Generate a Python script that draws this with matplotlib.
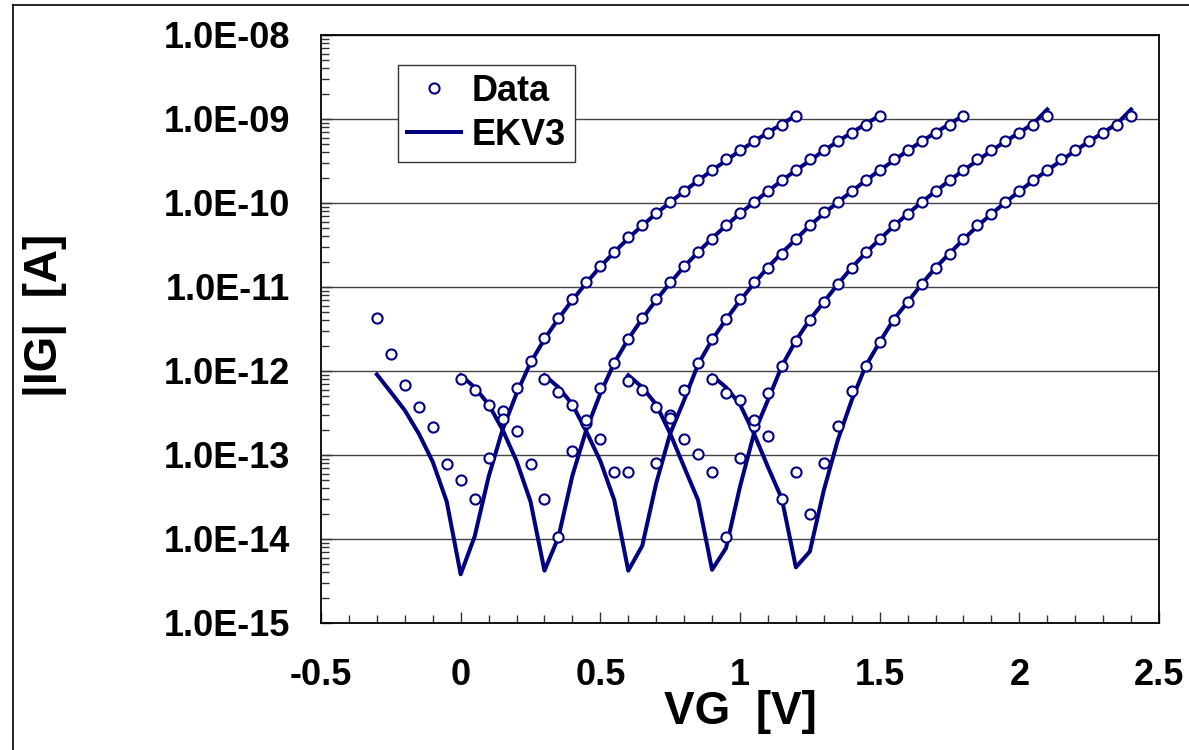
import numpy as np
import matplotlib.pyplot as plt
from matplotlib.ticker import MultipleLocator, LogLocator, FuncFormatter, NullFormatter
from matplotlib.lines import Line2D

plt.rcParams['font.family'] = ['Liberation Sans', 'DejaVu Sans']
plt.rcParams['font.weight'] = 'bold'

# gate voltage sweeps (step 0.05 V), one per curve
vg_1 = np.round(np.arange(-0.3, 1.2001, 0.05), 2)
vg_2 = np.round(np.arange(0.0, 1.5001, 0.05), 2)
vg_3 = np.round(np.arange(0.3, 1.8001, 0.05), 2)
vg_4 = np.round(np.arange(0.6, 2.1001, 0.05), 2)
vg_5 = np.round(np.arange(0.9, 2.4001, 0.05), 2)

# measured |IG| [A]
data_1 = [4.3e-12, 1.6e-12, 6.9e-13, 3.7e-13, 2.15e-13, 7.9e-14, 5.1e-14, 3.0e-14, 9.3e-14, 3.3e-13,
          6.3e-13, 1.3e-12, 2.5e-12, 4.3e-12, 7.1e-12, 1.15e-11, 1.78e-11, 2.6e-11, 3.9e-11, 5.5e-11,
          7.6e-11, 1.04e-10, 1.4e-10, 1.87e-10, 2.47e-10, 3.3e-10, 4.3e-10, 5.4e-10, 6.9e-10, 8.5e-10, 1.1e-9]
data_2 = [8.1e-13, 6.0e-13, 3.9e-13, 2.7e-13, 1.95e-13, 7.9e-14, 3.0e-14, 1.05e-14, 1.12e-13, 2.4e-13,
          6.3e-13, 1.26e-12, 2.4e-12, 4.3e-12, 7.1e-12, 1.15e-11, 1.78e-11, 2.6e-11, 3.7e-11, 5.5e-11,
          7.6e-11, 1.04e-10, 1.4e-10, 1.87e-10, 2.5e-10, 3.3e-10, 4.3e-10, 5.4e-10, 6.9e-10, 8.5e-10, 1.1e-9]
data_3 = [8.1e-13, 5.7e-13, 3.9e-13, 2.6e-13, 1.55e-13, 6.3e-14, 6.3e-14, np.nan, 8.1e-14, 3.0e-13,
          6.0e-13, 1.26e-12, 2.4e-12, 4.2e-12, 7.1e-12, 1.15e-11, 1.7e-11, 2.5e-11, 3.7e-11, 5.5e-11,
          7.9e-11, 1.04e-10, 1.4e-10, 1.87e-10, 2.5e-10, 3.3e-10, 4.3e-10, 5.4e-10, 6.9e-10, 8.5e-10, 1.1e-9]
data_4 = [7.7e-13, 6.0e-13, 3.7e-13, 2.75e-13, 1.55e-13, 1.04e-13, 6.3e-14, 1.05e-14, 9.3e-14, 2.2e-13,
          5.4e-13, 1.15e-12, 2.3e-12, 4.1e-12, 6.6e-12, 1.1e-11, 1.7e-11, 2.6e-11, 3.7e-11, 5.5e-11,
          7.3e-11, 1.04e-10, 1.4e-10, 1.87e-10, 2.5e-10, 3.3e-10, 4.3e-10, 5.4e-10, 6.9e-10, 8.5e-10, 1.1e-9]
data_5 = [8.1e-13, 5.4e-13, 4.5e-13, 2.6e-13, 1.7e-13, 3.0e-14, 6.3e-14, 2.0e-14, 8.1e-14, 2.2e-13,
          5.8e-13, 1.15e-12, 2.2e-12, 4.1e-12, 6.6e-12, 1.1e-11, 1.7e-11, 2.5e-11, 3.7e-11, 5.5e-11,
          7.3e-11, 1.04e-10, 1.4e-10, 1.87e-10, 2.5e-10, 3.3e-10, 4.3e-10, 5.4e-10, 6.9e-10, 8.5e-10, 1.1e-9]

# EKV3 model
ekv_1 = [9.1e-13, 5.6e-13, 3.4e-13, 1.8e-13, 8.3e-14, 2.8e-14, 3.8e-15, 1.07e-14, 5.5e-14, 2.0e-13,
         5.4e-13, 1.25e-12, 2.4e-12, 4.2e-12, 7.0e-12, 1.12e-11, 1.75e-11, 2.6e-11, 3.8e-11, 5.4e-11,
         7.5e-11, 1.02e-10, 1.38e-10, 1.85e-10, 2.45e-10, 3.2e-10, 4.2e-10, 5.4e-10, 6.9e-10, 8.7e-10, 1.1e-9]
ekv_2 = [8.9e-13, 6.4e-13, 4.0e-13, 2.0e-13, 8.5e-14, 2.8e-14, 4.2e-15, 1.05e-14, 5.7e-14, 2.0e-13,
         5.4e-13, 1.25e-12, 2.4e-12, 4.2e-12, 7.0e-12, 1.12e-11, 1.75e-11, 2.6e-11, 3.8e-11, 5.4e-11,
         7.5e-11, 1.02e-10, 1.38e-10, 1.85e-10, 2.45e-10, 3.2e-10, 4.2e-10, 5.4e-10, 6.9e-10, 8.7e-10, 1.1e-9]
ekv_3 = [8.9e-13, 6.4e-13, 4.0e-13, 1.9e-13, 8.5e-14, 2.9e-14, 4.2e-15, 8.3e-15, 4.6e-14, 1.8e-13,
         4.5e-13, 1.2e-12, 2.35e-12, 4.1e-12, 6.9e-12, 1.1e-11, 1.72e-11, 2.55e-11, 3.7e-11, 5.4e-11,
         7.5e-11, 1.02e-10, 1.38e-10, 1.85e-10, 2.45e-10, 3.2e-10, 4.2e-10, 5.4e-10, 6.9e-10, 8.7e-10, 1.1e-9]
ekv_4 = [8.9e-13, 6.4e-13, 4.0e-13, 1.8e-13, 7.2e-14, 2.9e-14, 4.3e-15, 7.8e-15, 4.2e-14, 1.8e-13,
         4.5e-13, 1.15e-12, 2.3e-12, 4.1e-12, 6.6e-12, 1.08e-11, 1.7e-11, 2.55e-11, 3.7e-11, 5.3e-11,
         7.4e-11, 1.02e-10, 1.38e-10, 1.85e-10, 2.45e-10, 3.2e-10, 4.2e-10, 5.4e-10, 6.9e-10, 8.8e-10, 1.3e-9]
ekv_5 = [8.8e-13, 6.4e-13, 4.0e-13, 1.8e-13, 7.2e-14, 3.0e-14, 4.6e-15, 7.1e-15, 3.8e-14, 1.5e-13,
         4.5e-13, 1.15e-12, 2.2e-12, 4.1e-12, 6.6e-12, 1.08e-11, 1.7e-11, 2.5e-11, 3.7e-11, 5.3e-11,
         7.4e-11, 1.02e-10, 1.38e-10, 1.85e-10, 2.45e-10, 3.2e-10, 4.2e-10, 5.4e-10, 6.9e-10, 8.8e-10, 1.3e-9]

vgs = [vg_1, vg_2, vg_3, vg_4, vg_5]
datas = [data_1, data_2, data_3, data_4, data_5]
ekvs = [ekv_1, ekv_2, ekv_3, ekv_4, ekv_5]

navy = '#000080'

fig = plt.figure(figsize=(11.89, 7.5), dpi=100)
ax = fig.add_axes([321 / 1189, 1 - 623 / 750, 838 / 1189, 588 / 750])

for i in range(5):
    ax.plot(vgs[i], ekvs[i], color=navy, lw=2.9, zorder=3,
            label='EKV3' if i == 0 else None)
for i in range(5):
    ax.plot(vgs[i], datas[i], ls='none', marker='o', ms=7.3, mfc='white', mec=navy, mew=1.5,
            zorder=4, label='Data' if i == 0 else None)

ax.set_yscale('log')
ax.set_xlim(-0.5, 2.5)
ax.set_ylim(1e-15, 1e-8)

ax.xaxis.set_major_locator(MultipleLocator(0.5))
ax.xaxis.set_minor_locator(MultipleLocator(0.1))
ax.xaxis.set_major_formatter(FuncFormatter(lambda v, p: f'{v:g}'))
ax.yaxis.set_major_locator(LogLocator(base=10, numticks=20))
ax.yaxis.set_minor_locator(LogLocator(base=10, subs=np.arange(2, 10), numticks=20))
ax.yaxis.set_minor_formatter(NullFormatter())
ax.yaxis.set_major_formatter(FuncFormatter(lambda v, p: f'{v:.1E}'))

ax.tick_params(which='both', direction='in', top=False, right=False, width=1.0, color='#333333')
ax.tick_params(which='major', length=8)
ax.tick_params(which='minor', length=5.5)
ax.tick_params(axis='x', which='major', labelsize=26, pad=25)
ax.tick_params(axis='y', which='major', labelsize=26, pad=22)
for lab in ax.get_xticklabels() + ax.get_yticklabels():
    lab.set_fontweight('bold')

ax.grid(True, which='major', axis='y', color='#444444', lw=1.0)
ax.set_axisbelow(True)
for s in ax.spines.values():
    s.set_linewidth(1.3)
    s.set_color('black')

ax.set_xlabel('VG  [V]', fontsize=33, fontweight='bold')
ax.set_ylabel('|IG|  [A]', fontsize=33, fontweight='bold')
ax.xaxis.set_label_coords(0.5, -(712 - 623) / 588)
ax.xaxis.label.set_va('center')
ax.yaxis.set_label_coords((45 - 321) / 838, 1 - (315 - 35) / 588)
ax.yaxis.label.set_va('center')

handles, labels = ax.get_legend_handles_labels()
order = [labels.index('Data'), labels.index('EKV3')]
leg = ax.legend([handles[k] for k in order], [labels[k] for k in order],
                loc='upper left', bbox_to_anchor=((398 - 321) / 838, 1 - (65 - 35) / 588),
                borderaxespad=0, fancybox=False, framealpha=1, edgecolor='#333333',
                prop={'size': 26, 'weight': 'bold'}, handlelength=1.5, handletextpad=0.3,
                borderpad=0.25, labelspacing=0.25)
leg.get_frame().set_linewidth(1.0)

# outer chart border (left and top edges visible)
fig.add_artist(Line2D([13 / 1189, 13 / 1189], [0, 1 - 5 / 750], color='black', lw=1.2))
fig.add_artist(Line2D([13 / 1189, 1], [1 - 5 / 750, 1 - 5 / 750], color='black', lw=1.2))

fig.savefig('out.png', dpi=100)
